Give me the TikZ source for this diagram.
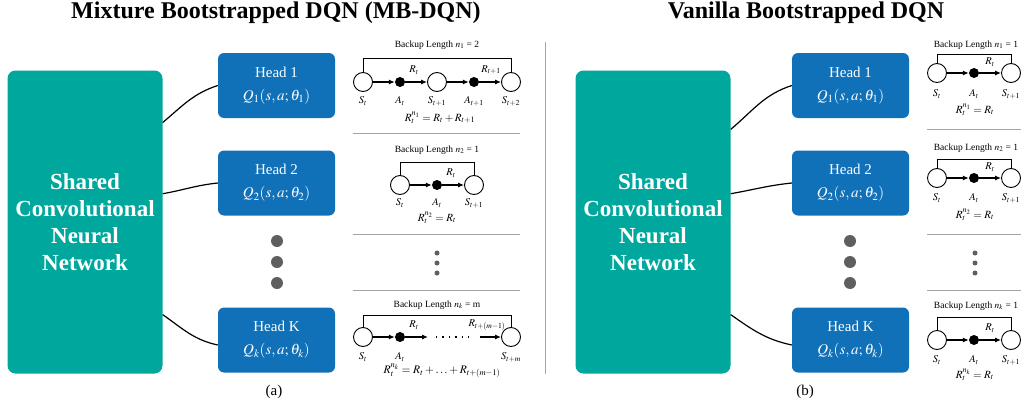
\documentclass[tikz,border=0pt]{standalone}
\usepackage{mathptmx}
\usepackage{fontspec}
\setmainfont{Liberation Serif}
\usetikzlibrary{arrows.meta,calc}
\definecolor{tealc}{RGB}{0,167,157}
\definecolor{headblue}{RGB}{16,112,184}
\definecolor{dotgray}{RGB}{95,95,95}
\definecolor{sepgray}{RGB}{165,165,165}
\tikzset{
  shared/.style={fill=tealc, rounded corners=8pt, minimum width=155pt, minimum height=303pt, text=white, font=\bfseries\fontsize{23}{27}\selectfont, align=center, inner sep=0},
  head/.style={fill=headblue, rounded corners=6pt, minimum width=117pt, minimum height=65pt, text=white, font=\fontsize{15}{23}\selectfont, align=center, inner sep=0},
  bigdot/.style={circle, fill=dotgray, minimum size=12pt, inner sep=0},
  smalldot/.style={circle, fill=dotgray, minimum size=5pt, inner sep=0},
  st/.style={circle, draw, line width=0.9pt, minimum size=19pt, inner sep=0},
  ac/.style={circle, fill=black, minimum size=10pt, inner sep=0},
  link/.style={line width=1.2pt},
  arr/.style={line width=1.1pt, -{Latex[length=6pt,width=5pt]}},
  brk/.style={line width=1pt},
  lab/.style={font=\fontsize{10.5}{12}\selectfont, inner sep=0},
  blen/.style={font=\fontsize{9.5}{12}\selectfont, inner sep=0},
  frm/.style={font=\fontsize{11}{13}\selectfont, inner sep=0},
  sep/.style={draw=sepgray, line width=0.8pt},
  ttl/.style={font=\bfseries\fontsize{24}{28}\selectfont, inner sep=0},
  subcap/.style={font=\fontsize{15}{18}\selectfont, inner sep=0},
}
\begin{document}
\begin{tikzpicture}[x=1pt,y=1pt]
\useasboundingbox (0,0) rectangle (1021,-407);
% titles
\node[ttl] (tA) at (276,-13) {Mixture Bootstrapped DQN (MB-DQN)};
\node[ttl] (tB) at (806,-13) {Vanilla Bootstrapped DQN};
% separator
\coordinate (vsTop) at (545,-42);
\coordinate (vsBot) at (545,-374);
\draw[sep, line width=1pt] (vsTop) -- (vsBot);

% ================= LEFT =================
\node[shared] (shA) at (85,-222) {Shared\\Convolutional\\Neural\\Network};
\node[head] (hA1) at (276.5,-85.5) {Head 1\\$Q_1(s,a;\theta_1)$};
\node[head] (hA2) at (276.5,-183) {Head 2\\$Q_2(s,a;\theta_2)$};
\node[head] (hAK) at (276.5,-340) {Head K\\$Q_k(s,a;\theta_k)$};
\draw[link] (shA.52) to[out=40,in=198] (hA1.west);
\draw[link] (shA.20) to[out=10,in=186] (hA2.west);
\draw[link] (shA.-50) to[out=-35,in=168] ($(hAK.west)+(0,-5)$);
\node[bigdot] (dA1) at (277,-241) {};
\node[bigdot] (dA2) at (277,-262) {};
\node[bigdot] (dA3) at (277,-283) {};
\node[subcap] (capA) at (274,-392) {(a)};

% panel 1
\node[blen] (bl1) at (437,-45) {Backup Length $n_1$ = 2};
\node[st] (p1s0) at (363,-82) {};
\node[ac] (p1a0) at (400,-82) {};
\node[st] (p1s1) at (437,-82) {};
\node[ac] (p1a1) at (474,-82) {};
\node[st] (p1s2) at (511,-82) {};
\draw[brk] (p1s0.north) -- ++(0,14) -| (p1s2.north);
\draw[arr] (p1s0) -- (p1a0);
\draw[arr] (p1a0) -- (p1s1);
\draw[arr] (p1s1) -- (p1a1);
\draw[arr] (p1a1) -- (p1s2);
\node[lab] at (414,-70) {$R_t$};
\node[lab] at (491,-70) {$R_{t+1}$};
\node[lab] at (363,-101) {$S_t$};
\node[lab] at (400,-101) {$A_t$};
\node[lab] at (437,-101) {$S_{t+1}$};
\node[lab] at (474,-101) {$A_{t+1}$};
\node[lab] at (511,-101) {$S_{t+2}$};
\node[frm] at (440,-118) {$R_t^{n_1} = R_t + R_{t+1}$};
\coordinate (l1a) at (353,-133); \coordinate (l1b) at (520,-133);
\draw[sep] (l1a) -- (l1b);

% panel 2
\node[blen] (bl2) at (437,-150) {Backup Length $n_2$ = 1};
\node[st] (p2s0) at (400,-185) {};
\node[ac] (p2a0) at (437,-185) {};
\node[st] (p2s1) at (474,-185) {};
\draw[brk] (p2s0.north) -- ++(0,13) -| (p2s1.north);
\draw[arr] (p2s0) -- (p2a0);
\draw[arr] (p2a0) -- (p2s1);
\node[lab] at (451,-173) {$R_t$};
\node[lab] at (400,-203) {$S_t$};
\node[lab] at (437,-203) {$A_t$};
\node[lab] at (474,-203) {$S_{t+1}$};
\node[frm] at (437,-218) {$R_t^{n_2} = R_t$};
\coordinate (l2a) at (353,-234); \coordinate (l2b) at (520,-234);
\draw[sep] (l2a) -- (l2b);

% panel dots
\node[smalldot] (sA1) at (437,-253) {};
\node[smalldot] (sA2) at (437,-263) {};
\node[smalldot] (sA3) at (437,-273) {};
\coordinate (l3a) at (353,-290); \coordinate (l3b) at (520,-290);
\draw[sep] (l3a) -- (l3b);

% panel K
\node[blen] (bl3) at (437,-305) {Backup Length $n_k$ = m};
\node[st] (p3s0) at (363,-337) {};
\node[ac] (p3a0) at (400,-337) {};
\node[st] (p3s1) at (511,-337) {};
\coordinate (p3e1) at (428,-337);
\coordinate (p3d1) at (436,-337);
\coordinate (p3d2) at (474,-337);
\coordinate (p3e2) at (480,-337);
\draw[brk] (p3s0.north) -- ++(0,12) -| (p3s1.north);
\draw[arr] (p3s0) -- (p3a0);
\draw[arr] (p3a0) -- (p3e1);
\draw[line width=1.4pt, dash pattern=on 1.4pt off 5pt] (p3d1) -- (p3d2);
\draw[arr] (p3e2) -- (p3s1);
\node[lab] at (414,-325) {$R_t$};
\node[lab] at (487,-325) {$R_{t+(m-1)}$};
\node[lab] at (363,-357) {$S_t$};
\node[lab] at (400,-357) {$A_t$};
\node[lab] at (511,-357) {$S_{t+m}$};
\node[frm, font=\fontsize{11.5}{13}\selectfont] at (442,-371) {$R_t^{n_k} = R_t + \ldots + R_{t+(m-1)}$};

% ================= RIGHT =================
\node[shared] (shB) at (653,-222) {Shared\\Convolutional\\Neural\\Network};
\node[head] (hB1) at (850.5,-85.5) {Head 1\\$Q_1(s,a;\theta_1)$};
\node[head] (hB2) at (850.5,-183) {Head 2\\$Q_2(s,a;\theta_2)$};
\node[head] (hBK) at (850.5,-340) {Head K\\$Q_k(s,a;\theta_k)$};
\draw[link] (shB.50) to[out=40,in=198] (hB1.west);
\draw[link] (shB.20) to[out=10,in=186] (hB2.west);
\draw[link] (shB.-50) to[out=-35,in=168] ($(hBK.west)+(0,-5)$);
\node[bigdot] (dB1) at (850,-241) {};
\node[bigdot] (dB2) at (850,-262) {};
\node[bigdot] (dB3) at (850,-283) {};
\node[subcap] (capB) at (805,-392) {(b)};

% right panel 1
\node[blen] (rb1) at (976,-45) {Backup Length $n_1$ = 1};
\node[st] (q1s0) at (937,-73) {};
\node[ac] (q1a0) at (974,-73) {};
\node[st] (q1s1) at (1011,-73) {};
\draw[brk] (q1s0.north) -- ++(0,9) -| (q1s1.north);
\draw[arr] (q1s0) -- (q1a0);
\draw[arr] (q1a0) -- (q1s1);
\node[lab] at (990,-62) {$R_t$};
\node[lab] at (937,-94) {$S_t$};
\node[lab] at (974,-94) {$A_t$};
\node[lab] at (1011,-94) {$S_{t+1}$};
\node[frm] at (975,-110) {$R_t^{n_1} = R_t$};
\coordinate (m1a) at (927,-129); \coordinate (m1b) at (1021,-129);
\draw[sep] (m1a) -- (m1b);

% right panel 2
\node[blen] (rb2) at (976,-148) {Backup Length $n_2$ = 1};
\node[st] (q2s0) at (937,-178) {};
\node[ac] (q2a0) at (974,-178) {};
\node[st] (q2s1) at (1011,-178) {};
\draw[brk] (q2s0.north) -- ++(0,9) -| (q2s1.north);
\draw[arr] (q2s0) -- (q2a0);
\draw[arr] (q2a0) -- (q2s1);
\node[lab] at (990,-167) {$R_t$};
\node[lab] at (937,-198) {$S_t$};
\node[lab] at (974,-198) {$A_t$};
\node[lab] at (1011,-198) {$S_{t+1}$};
\node[frm] at (975,-215) {$R_t^{n_2} = R_t$};
\coordinate (m2a) at (927,-234); \coordinate (m2b) at (1021,-234);
\draw[sep] (m2a) -- (m2b);

% right dots
\node[smalldot] (sB1) at (975,-253) {};
\node[smalldot] (sB2) at (975,-263) {};
\node[smalldot] (sB3) at (975,-273) {};
\coordinate (m3a) at (927,-290); \coordinate (m3b) at (1021,-290);
\draw[sep] (m3a) -- (m3b);

% right panel K
\node[blen] (rb3) at (976,-306) {Backup Length $n_k$ = 1};
\node[st] (q3s0) at (937,-340) {};
\node[ac] (q3a0) at (974,-340) {};
\node[st] (q3s1) at (1011,-340) {};
\draw[brk] (q3s0.north) -- ++(0,13) -| (q3s1.north);
\draw[arr] (q3s0) -- (q3a0);
\draw[arr] (q3a0) -- (q3s1);
\node[lab] at (990,-328) {$R_t$};
\node[lab] at (937,-360) {$S_t$};
\node[lab] at (974,-360) {$A_t$};
\node[lab] at (1011,-360) {$S_{t+1}$};
\node[frm] at (975,-375) {$R_t^{n_k} = R_t$};
\end{tikzpicture}
\end{document}
